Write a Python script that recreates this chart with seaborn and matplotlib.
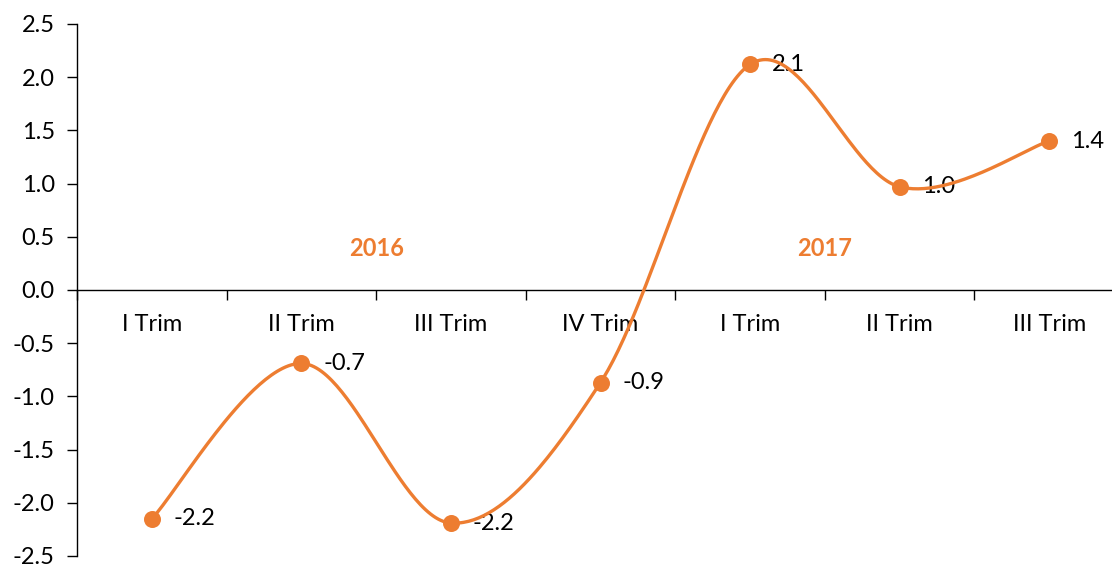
import numpy as np
import pandas as pd
import matplotlib
matplotlib.use("Agg")
import matplotlib.pyplot as plt
import seaborn as sns

categories = ["I Trim", "II Trim", "III Trim", "IV Trim", "I Trim", "II Trim", "III Trim"]
values = [-2.15, -0.69, -2.19, -0.87, 2.12, 0.97, 1.40]
value_labels = ["-2.2", "-0.7", "-2.2", "-0.9", "2.1", "1.0", "1.4"]
year_labels = ["2016", "2017"]
year_pos = [1.5, 4.5]
yticks = [-2.5, -2.0, -1.5, -1.0, -0.5, 0.0, 0.5, 1.0, 1.5, 2.0, 2.5]

ORANGE = "#ED7D31"
FS = 17

sns.set_theme(style="white")
plt.rcParams["font.family"] = ["Lato", "DejaVu Sans"]

# Excel-like smoothed line (Catmull-Rom style Bezier)
x = np.arange(len(values), dtype=float)
y = np.array(values, dtype=float)
xs, ys = [], []
n = len(x)
t = np.linspace(0, 1, 60)
for i in range(n - 1):
    p0 = np.array([x[i], y[i]])
    p3 = np.array([x[i + 1], y[i + 1]])
    pm = np.array([x[i - 1], y[i - 1]]) if i > 0 else p0
    pp = np.array([x[i + 2], y[i + 2]]) if i + 2 < n else p3
    c1 = p0 + (p3 - pm) / 6.0
    c2 = p3 - (pp - p0) / 6.0
    pts = ((1 - t) ** 3)[:, None] * p0 + (3 * (1 - t) ** 2 * t)[:, None] * c1 \
        + (3 * (1 - t) * t ** 2)[:, None] * c2 + (t ** 3)[:, None] * p3
    xs.extend(pts[:, 0])
    ys.extend(pts[:, 1])
curve = pd.DataFrame({"x": xs, "y": ys})
pts_df = pd.DataFrame({"x": x, "y": y})

fig = plt.figure(figsize=(11.12, 5.64), dpi=100)
ax = fig.add_axes([77 / 1112, 8 / 564, (1124 - 77) / 1112, (556 - 24) / 564])

sns.lineplot(data=curve, x="x", y="y", ax=ax, color=ORANGE, linewidth=2.4, sort=False,
             estimator=None, zorder=3)
sns.scatterplot(data=pts_df, x="x", y="y", ax=ax, color=ORANGE, s=150, edgecolor=ORANGE,
                linewidth=0, zorder=4)

for xi, yi, lab in zip(x, y, value_labels):
    ax.annotate(lab, (xi, yi), xytext=(22, 0), textcoords="offset pixels",
                ha="left", va="center", fontsize=FS, color="black", zorder=2)

for xp, lab in zip(year_pos, year_labels):
    ax.text(xp, 0.39, lab, ha="center", va="center", fontsize=FS, fontweight="bold", color=ORANGE)

ax.set_xlim(-0.5, n - 0.5)
ax.set_ylim(-2.5, 2.5)
ax.set_yticks(yticks)
ax.set_yticklabels([f"{v:.1f}" for v in yticks])

for s in ["top", "right"]:
    ax.spines[s].set_visible(False)
ax.spines["bottom"].set_position(("data", 0))
for s in ["left", "bottom"]:
    ax.spines[s].set_color("black")
    ax.spines[s].set_linewidth(1.0)

ax.set_xticks(np.arange(-0.5, n, 1.0))
ax.set_xticklabels([])
ax.set_xticks(x, minor=True)
ax.set_xticklabels(categories, minor=True)
ax.tick_params(axis="x", which="major", direction="out", length=7, width=1, color="black", bottom=True)
ax.tick_params(axis="x", which="minor", length=0, pad=17, labelsize=FS, labelcolor="black")
ax.tick_params(axis="y", direction="out", length=7, width=1, color="black", left=True,
               labelsize=FS, labelcolor="black", pad=9)
ax.set_xlabel("")
ax.set_ylabel("")
ax.grid(False)

fig.savefig("out.png", dpi=100)
